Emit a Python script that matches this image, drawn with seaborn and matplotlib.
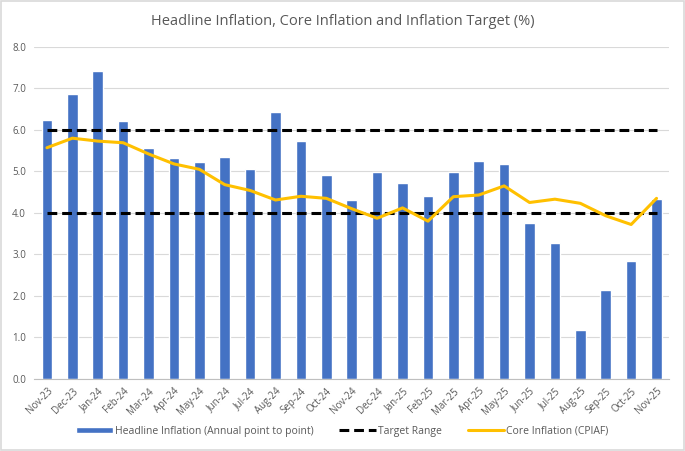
import numpy as np
import pandas as pd
import matplotlib
matplotlib.use("Agg")
import matplotlib.pyplot as plt
import seaborn as sns
from matplotlib.patches import Rectangle

months = ["Nov-23", "Dec-23", "Jan-24", "Feb-24", "Mar-24", "Apr-24", "May-24",
          "Jun-24", "Jul-24", "Aug-24", "Sep-24", "Oct-24", "Nov-24", "Dec-24",
          "Jan-25", "Feb-25", "Mar-25", "Apr-25", "May-25", "Jun-25", "Jul-25",
          "Aug-25", "Sep-25", "Oct-25", "Nov-25"]
headline = [6.25, 6.86, 7.42, 6.22, 5.56, 5.33, 5.22, 5.35, 5.06, 6.44, 5.73, 4.92,
            4.32, 4.98, 4.73, 4.41, 4.98, 5.26, 5.17, 3.75, 3.28, 1.18, 2.13, 2.85, 4.34]
core = [5.57, 5.80, 5.73, 5.69, 5.42, 5.18, 5.05, 4.68, 4.54, 4.31, 4.40, 4.35,
        4.10, 3.87, 4.12, 3.80, 4.39, 4.43, 4.65, 4.25, 4.33, 4.23, 3.93, 3.72, 4.35]
target_low = 4.0
target_high = 6.0

df = pd.DataFrame({"month": months, "headline": headline, "core": core})
df["low"] = target_low
df["high"] = target_high

text_col = "#595959"
sns.set_style("white")
plt.rcParams["font.family"] = ["Open Sans", "DejaVu Sans"]

fig = plt.figure(figsize=(6.85, 4.51), dpi=100)
ax = fig.add_axes([0.050, 0.160, 0.927, 0.736])

sns.barplot(data=df, x="month", y="headline", color="#4472C4", saturation=1,
            width=0.42, ax=ax, label="Headline Inflation (Annual point to point)", zorder=2)
sns.lineplot(data=df, x="month", y="high", color="black", linestyle=(0, (3.2, 1.6)),
             linewidth=2.2, ax=ax, label="Target Range", zorder=3)
sns.lineplot(data=df, x="month", y="low", color="black", linestyle=(0, (3.2, 1.6)),
             linewidth=2.2, ax=ax, legend=False, zorder=3)
sns.lineplot(data=df, x="month", y="core", color="#FFC000", linewidth=2.2, ax=ax,
             label="Core Inflation (CPIAF)", zorder=4)

ax.set_ylim(0, 8)
ax.set_xlim(-0.5, len(months) - 0.5)
ax.set_yticks(np.arange(0, 8.1, 1.0))
ax.set_yticklabels([f"{v:.1f}" for v in np.arange(0, 8.1, 1.0)], fontsize=7, color=text_col)
ax.set_xticks(range(len(months)))
ax.set_xticklabels(months, rotation=45, ha="right", rotation_mode="anchor",
                   fontsize=7, color=text_col)
ax.set_xticks(np.arange(-0.5, len(months), 1.0), minor=True)
ax.tick_params(axis="x", which="major", length=0, pad=5)
ax.tick_params(axis="x", which="minor", length=4, color="#BFBFBF", width=0.8)
ax.tick_params(axis="y", length=0, pad=6)
ax.yaxis.grid(True, color="#D9D9D9", linewidth=0.8)
ax.set_axisbelow(True)
for s in ["top", "right", "left"]:
    ax.spines[s].set_visible(False)
ax.spines["bottom"].set_color("#BFBFBF")
ax.spines["bottom"].set_linewidth(0.8)
ax.set_xlabel("")
ax.set_ylabel("")

fig.text(0.5, 0.953, "Headline Inflation, Core Inflation and Inflation Target (%)",
         ha="center", va="center", fontsize=10.5, color=text_col)

# legend order: bars, target range, core
handles, labels = ax.get_legend_handles_labels()
order = [labels.index("Headline Inflation (Annual point to point)"),
         labels.index("Target Range"), labels.index("Core Inflation (CPIAF)")]
ax.legend([handles[i] for i in order], [labels[i] for i in order],
          loc="center", bbox_to_anchor=(0.5, 0.044),
          bbox_transform=fig.transFigure, ncol=3, frameon=False, fontsize=7.5,
          labelcolor=text_col, handlelength=3.5, handleheight=0.6,
          handletextpad=0.2, columnspacing=2.5)

fig.patches.append(Rectangle((0.002, 0.002), 0.996, 0.996, transform=fig.transFigure,
                             fill=False, edgecolor="#D9D9D9", linewidth=1.2))

fig.savefig("out.png", dpi=100)
